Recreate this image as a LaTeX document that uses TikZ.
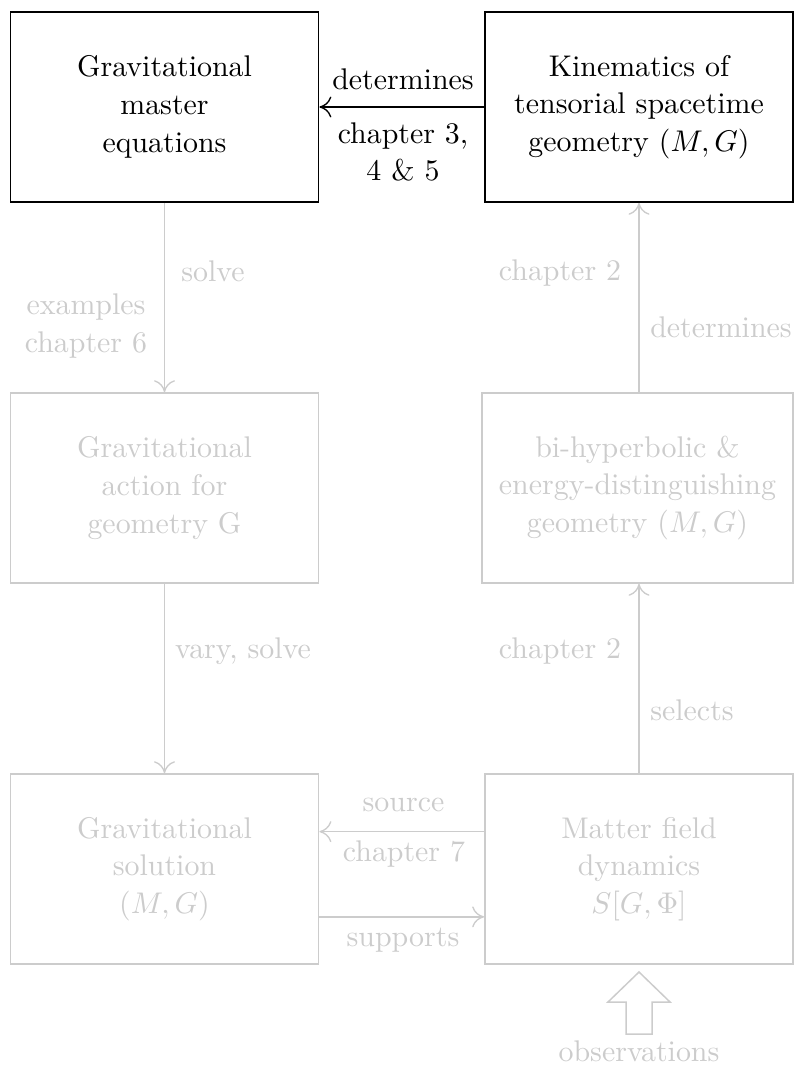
\documentclass[tikz,border=0pt]{standalone}
\usetikzlibrary{arrows.meta}
\begin{document}
\definecolor{faint}{gray}{0.8}
\begin{tikzpicture}[
  x=0.3344pt, y=-0.3344pt,
  every node/.style={font=\fontsize{10}{12.6}\selectfont, align=center},
  box/.style={draw, line width=0.6pt, minimum width=103pt, minimum height=63.5pt, inner xsep=1pt},
  dim/.style={draw=faint, text=faint},
  lbl/.style={text=faint, inner sep=0pt},
  arr/.style={-{To[length=4pt, width=7pt]}, line width=0.45pt},
]
\useasboundingbox (0,0) rectangle (794,1068);
% boxes
\node[box] (B1) at (164.5,107) {Gravitational\\master\\equations};
\node[box] (B2) at (639,107) {Kinematics of\\tensorial spacetime\\geometry $(M,G)$};
\node[box,dim] (B3) at (164.5,488) {Gravitational\\action for\\geometry G};
\node[box,dim,minimum width=104pt] (B4) at (637.5,488) {bi-hyperbolic \&\\energy-distinguishing\\geometry $(M,G)$};
\node[box,dim] (B5) at (164.5,869) {Gravitational\\solution\\$(M,G)$};
\node[box,dim] (B6) at (639,869) {Matter field\\dynamics\\$S[G,\Phi]$};
% connectors
\draw[arr] (B2) -- (B1);
\draw[arr, faint] (B1) -- (B3);
\draw[arr, faint] (B2.south |- B4.north) -- (B2.south);
\draw[arr, faint] (B3) -- (B5);
\draw[arr, faint] (B6.north) -- (B6.north |- B4.south);
\draw[arr, faint] ([yshift=12.5pt]B6.west) -- ([yshift=12.5pt]B5.east);
\draw[arr, faint] ([yshift=-16pt]B5.east) -- ([yshift=-16pt]B6.west);
% labels
\node[anchor=base, inner sep=0pt] (l1) at (403,90) {determines};
\node[inner sep=0pt] (l2) at (403,152) {chapter 3,\\4 \& 5};
\node[lbl, anchor=base] (l3) at (213,281) {solve};
\node[lbl] (l4) at (86,326) {examples\\chapter 6};
\node[lbl, anchor=base] (l5) at (560,280) {chapter 2};
\node[lbl, anchor=base] (l6) at (721,337) {determines};
\node[lbl, anchor=base] (l7) at (243,658) {vary, solve};
\node[lbl, anchor=base] (l8) at (560,658) {chapter 2};
\node[lbl, anchor=base] (l9) at (692,720) {selects};
\node[lbl, anchor=base] (l10) at (403.5,811.7) {source};
\node[lbl, anchor=base] (l11) at (404,861) {chapter 7};
\node[lbl, anchor=base] (l12) at (403,946.7) {supports};
% observations block arrow
\draw[faint, line width=0.5pt] (626,1034) -- (626,1002) -- (608,1002) -- (639,972) -- (670,1002) -- (652,1002) -- (652,1034) -- cycle;
\node[lbl, anchor=base] (obs) at (639,1061) {observations};
\end{tikzpicture}
\end{document}
